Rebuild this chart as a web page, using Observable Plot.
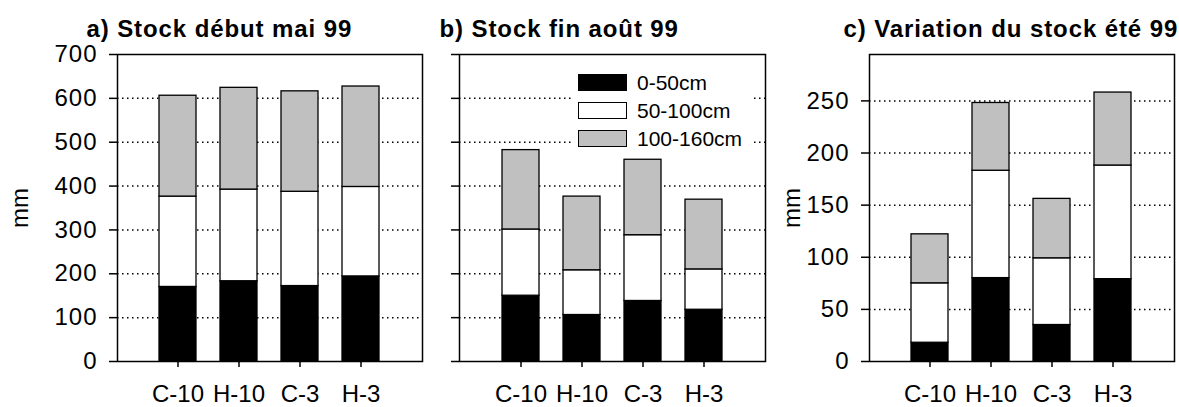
<!DOCTYPE html>
<html><head><meta charset="utf-8">
<script src="https://cdn.jsdelivr.net/npm/d3@7"></script>
<script src="https://cdn.jsdelivr.net/npm/@observablehq/plot@0.6"></script>
<style>
body{margin:0;background:#fff;font-family:"Liberation Sans",Arial,sans-serif;}
#wrap{position:relative;width:1179px;height:407px;overflow:hidden;}
.panel{position:absolute;top:0;}
.panel svg{overflow:visible;}
#legend{position:absolute;left:573px;top:68px;width:180px;height:82px;background:#fff;}
.row{position:absolute;left:5px;height:17px;display:flex;align-items:center;}
.sw{box-sizing:border-box;width:49px;height:17px;border:1.5px solid #000;margin-right:10px;}
.lt{font-size:21px;color:#000;line-height:17px;}
</style></head>
<body><div id="wrap"></div>
<script>
const cats = ["C-10","H-10","C-3","H-3"];
const layers = ["0-50cm","50-100cm","100-160cm"];
const layerColors = ["#000000","#ffffff","#c0c0c0"];
// segment thickness per layer (mm)
const a0 = [170,183,172,194];
const a1 = [206,209,215,204];
const a2 = [230,232,229,229];
const b0 = [150,106,138,118];
const b1 = [151,102,150,92];
const b2 = [181,168,172,159];
const c0 = [18,80,35,79];
const c1 = [57,103,64,109];
const c2 = [47,65,57,70];
const titles = ["a) Stock début mai 99","b) Stock fin août 99","c) Variation du stock été 99"];
const ticksAB = [0,100,200,300,400,500,600,700];
const gridAB = [100,200,300,400,500,600];
const ticksC = [0,50,100,150,200,250];
const gridC = [50,100,150,200,250];

function table(s0,s1,s2){
  const out=[];
  [s0,s1,s2].forEach((s,li)=>s.forEach((v,i)=>out.push({cat:cats[i],layer:layers[li],value:v})));
  return out;
}

function panel(opts){
  const {data,left,width,mL,mR,ymax,ticks,grid,labels,title,tdx,mm,mmdx}=opts;
  const marks=[
    Plot.ruleY(grid,{stroke:"#000",strokeWidth:1.5,strokeDasharray:"1.5,3.5"}),
    Plot.barY(data,{x:"cat",y:"value",fill:"layer",stroke:"#000",strokeWidth:1.3}),
    Plot.frame({stroke:"#000",strokeWidth:1.5}),
    Plot.axisY(ticks,{tickSize:8,tickPadding:12,fontSize:24,strokeWidth:1.5,tickFormat: labels? d=>d : ()=>""}),
    Plot.axisX({tickSize:6,tickPadding:17,fontSize:24,strokeWidth:1.5}),
    Plot.text([title],{frameAnchor:"top-left",textAnchor:"start",lineAnchor:"bottom",dx:tdx,dy:-18,fontSize:24,fontWeight:"bold"})
  ];
  if(mm) marks.push(Plot.text(["mm"],{frameAnchor:"left",textAnchor:"middle",lineAnchor:"middle",rotate:-90,dx:mmdx,fontSize:24}));
  const p=Plot.plot({
    width, height:407, marginLeft:mL, marginRight:mR, marginTop:54, marginBottom:46,
    style:{fontFamily:'"Liberation Sans",Arial,sans-serif',fontSize:"24px",color:"#000",background:"transparent",overflow:"visible"},
    x:{type:"band",domain:cats,paddingInner:0.39,paddingOuter:0.695,label:null,axis:null},
    y:{domain:[0,ymax],label:null,axis:null},
    color:{domain:layers,range:layerColors},
    marks
  });
  const s=d3.select(p);
  s.selectAll('[aria-label="y-axis tick label"] text').style("letter-spacing","1px");
  s.selectAll("text").filter(function(){return this.textContent===title;})
    .style("letter-spacing","0.9px");
  const d=document.createElement("div");
  d.className="panel"; d.style.left=left+"px";
  d.appendChild(p);
  document.getElementById("wrap").appendChild(d);
}

panel({data:table(a0,a1,a2),left:0,width:430,mL:117,mR:8,ymax:700,ticks:ticksAB,grid:gridAB,labels:true,title:titles[0],tdx:-31,mm:true,mmdx:-97});
panel({data:table(b0,b1,b2),left:430,width:345,mL:29,mR:10,ymax:700,ticks:ticksAB,grid:gridAB,labels:false,title:titles[1],tdx:-20,mm:false});
panel({data:table(c0,c1,c2),left:775,width:404,mL:94,mR:5,ymax:294.5,ticks:ticksC,grid:gridC,labels:true,title:titles[2],tdx:-26,mm:true,mmdx:-77});

// legend
const lg=document.createElement("div"); lg.id="legend";
layers.forEach((l,i)=>{
  const r=document.createElement("div"); r.className="row"; r.style.top=(6+i*28)+"px";
  const sw=document.createElement("div"); sw.className="sw"; sw.style.background=layerColors[i];
  const t=document.createElement("span"); t.className="lt"; t.textContent=l;
  r.appendChild(sw); r.appendChild(t); lg.appendChild(r);
});
document.getElementById("wrap").appendChild(lg);
</script></body></html>
